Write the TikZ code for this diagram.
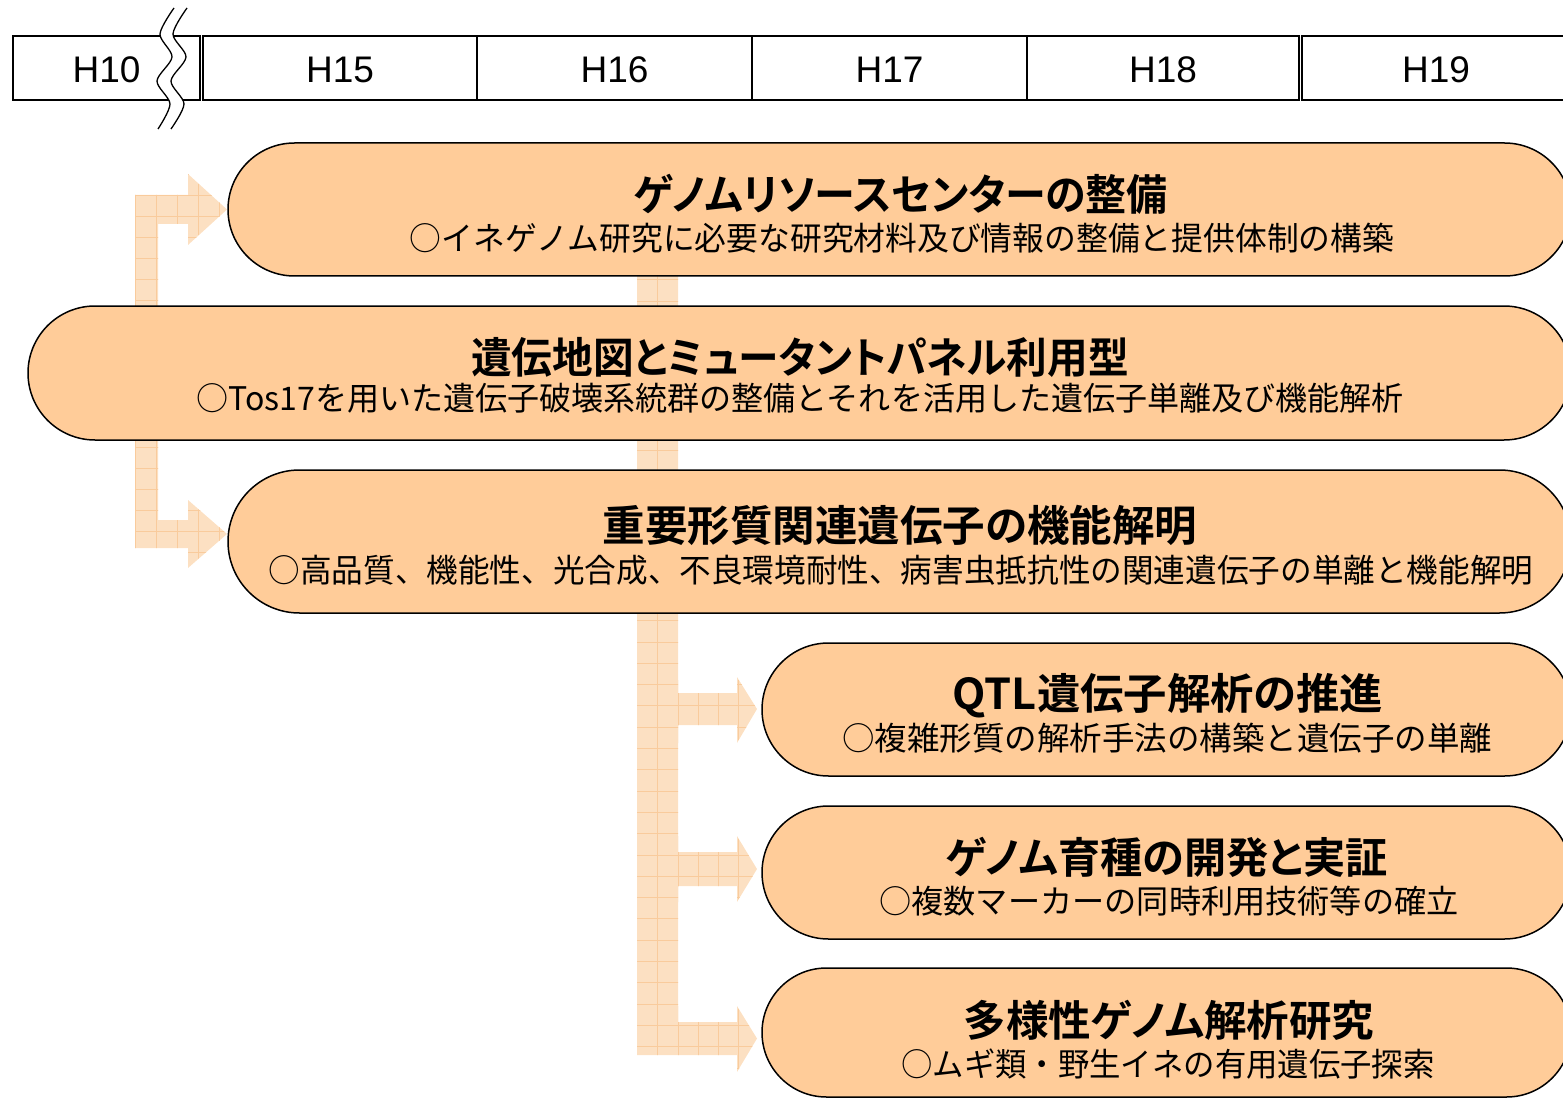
\documentclass[tikz,border=0pt]{standalone}
\usepackage{graphicx}
\usepackage{fontspec}
\setmainfont{Liberation Sans}
\newfontfamily\jp{Noto Sans CJK JP}
\newfontfamily\jpt{Noto Sans CJK JP Bold}[RawFeature=+palt]
\definecolor{peach}{RGB}{255,204,153}
\definecolor{arrbg}{RGB}{252,224,194}
\definecolor{arrgrid}{RGB}{249,203,156}
\newcommand{\sx}[2]{\scalebox{#1}[1]{#2}}
\tikzset{
  hdr/.style={draw=black, line width=1.3pt},
  hdrtext/.style={font=\fontsize{37}{40}\selectfont, inner sep=0pt, anchor=center},
  pill/.style={draw=black, fill=peach, line width=1.5pt},
  ttl/.style={font=\jpt\fontsize{42.5}{46}\selectfont, inner sep=0pt, anchor=base},
  sub/.style={font=\jp\fontsize{32.5}{36}\selectfont, inner sep=0pt, anchor=base},
  gridline/.style={draw=arrgrid, line width=0.9pt}
}
\begin{document}
\begin{tikzpicture}[x=1pt,y=-1pt]
\useasboundingbox (0,0) rectangle (1563,1099);
\clip (0,0) rectangle (1563,1099);
% ---------- header ----------
\draw[hdr] (13,36) rectangle (200,100);
\draw[hdr] (203,36) rectangle (1299,100);
\draw[hdr] (477,36) -- (477,100) (752,36) -- (752,100) (1027,36) -- (1027,100);
\draw[hdr] (1302,36) rectangle (1580,100);
\node[hdrtext] (h10) at (106.5,69.5) {H10};
\node[hdrtext] (h15) at (340,69.5) {H15};
\node[hdrtext] (h16) at (614.5,69.5) {H16};
\node[hdrtext] (h17) at (889.5,69.5) {H17};
\node[hdrtext] (h18) at (1163,69.5) {H18};
\node[hdrtext] (h19) at (1436,69.5) {H19};
% break mark
\fill[white] plot[smooth] coordinates {(174,8) (160,34) (172,57) (157,81) (170,104) (158,129)}
  -- plot[smooth] coordinates {(171,129) (184,104) (171,81) (186,57) (173,34) (187,8)} -- cycle;
\draw[line width=1.3pt] plot[smooth] coordinates {(174,8) (160,34) (172,57) (157,81) (170,104) (158,129)};
\draw[line width=1.3pt] plot[smooth] coordinates {(187,8) (173,34) (186,57) (171,81) (184,104) (171,129)};
% ---------- block arrows ----------
\begin{scope}
\clip (135,195) -- (188,195) -- (188,174) -- (227,209.5) -- (188,245) -- (188,224) -- (158,224)
  -- (158,520) -- (188,520) -- (188,500) -- (227,534) -- (188,568) -- (188,548) -- (135,548) -- cycle;
\fill[arrbg] (120,160) rectangle (240,580);
\foreach \i in {0,...,6} \draw[gridline] (135+\i*21,160) -- (135+\i*21,580);
\foreach \j in {0,...,20} \draw[gridline] (120,174+\j*21) -- (240,174+\j*21);
\end{scope}
\begin{scope}
\clip (637,220) -- (678,220) -- (678,693) -- (737,693) -- (737,677) -- (757,709) -- (737,743) -- (737,725)
  -- (678,725) -- (678,852) -- (737,852) -- (737,836) -- (757,869) -- (737,902) -- (737,886)
  -- (678,886) -- (678,1022) -- (737,1022) -- (737,1006) -- (757,1038.5) -- (737,1072) -- (737,1055)
  -- (637,1055) -- cycle;
\fill[arrbg] (630,210) rectangle (770,1080);
\draw[gridline] (657,210) -- (657,1080);
\foreach \i in {0,...,4} \draw[gridline] (678+\i*20,680) -- (678+\i*20,1080);
\foreach \j in {0,...,41} \draw[gridline] (630,216+\j*21.3) -- (770,216+\j*21.3);
\end{scope}
% ---------- pills ----------
\draw[pill, rounded corners=66.5pt] (228,143) rectangle (1571,276);
\draw[pill, rounded corners=67pt] (28,306) rectangle (1571,440);
\draw[pill, rounded corners=71.5pt] (228,470) rectangle (1571,613);
\draw[pill, rounded corners=66.5pt] (762,643) rectangle (1571,776);
\draw[pill, rounded corners=66.5pt] (762,806) rectangle (1571,939);
\draw[pill, rounded corners=64.5pt] (762,968) rectangle (1571,1097);
% ---------- texts ----------
\node[ttl] (t1) at (901,211) {\sx{0.965}{ゲノムリソースセンターの整備}};
\node[sub] (s1) at (902,250.5) {\sx{0.978}{○イネゲノム研究に必要な研究材料及び情報の整備と提供体制の構築}};
\node[ttl] (t2) at (800,373) {\sx{0.957}{遺伝地図とミュータントパネル利用型}};
\node[sub] (s2) at (800,410.5) {\sx{0.986}{○Tos17を用いた遺伝子破壊系統群の整備とそれを活用した遺伝子単離及び機能解析}};
\node[ttl] (t3) at (900,541) {重要形質関連遺伝子の機能解明};
\node[sub] (s3) at (901,582.5) {\sx{0.973}{○高品質、機能性、光合成、不良環境耐性、病害虫抵抗性の関連遺伝子の単離と機能解明}};
\node[ttl] (t4) at (1168,709) {\sx{1.02}{QTL遺伝子解析の推進}};
\node[sub] (s4) at (1167,750.5) {○複雑形質の解析手法の構築と遺伝子の単離};
\node[ttl] (t5) at (1167,873) {\sx{0.993}{ゲノム育種の開発と実証}};
\node[sub] (s5) at (1169,913.5) {\sx{0.99}{○複数マーカーの同時利用技術等の確立}};
\node[ttl] (t6) at (1169,1036) {多様性ゲノム解析研究};
\node[sub] (s6) at (1168,1076.5) {\sx{0.965}{○ムギ類・野生イネの有用遺伝子探索}};
\end{tikzpicture}
\end{document}
